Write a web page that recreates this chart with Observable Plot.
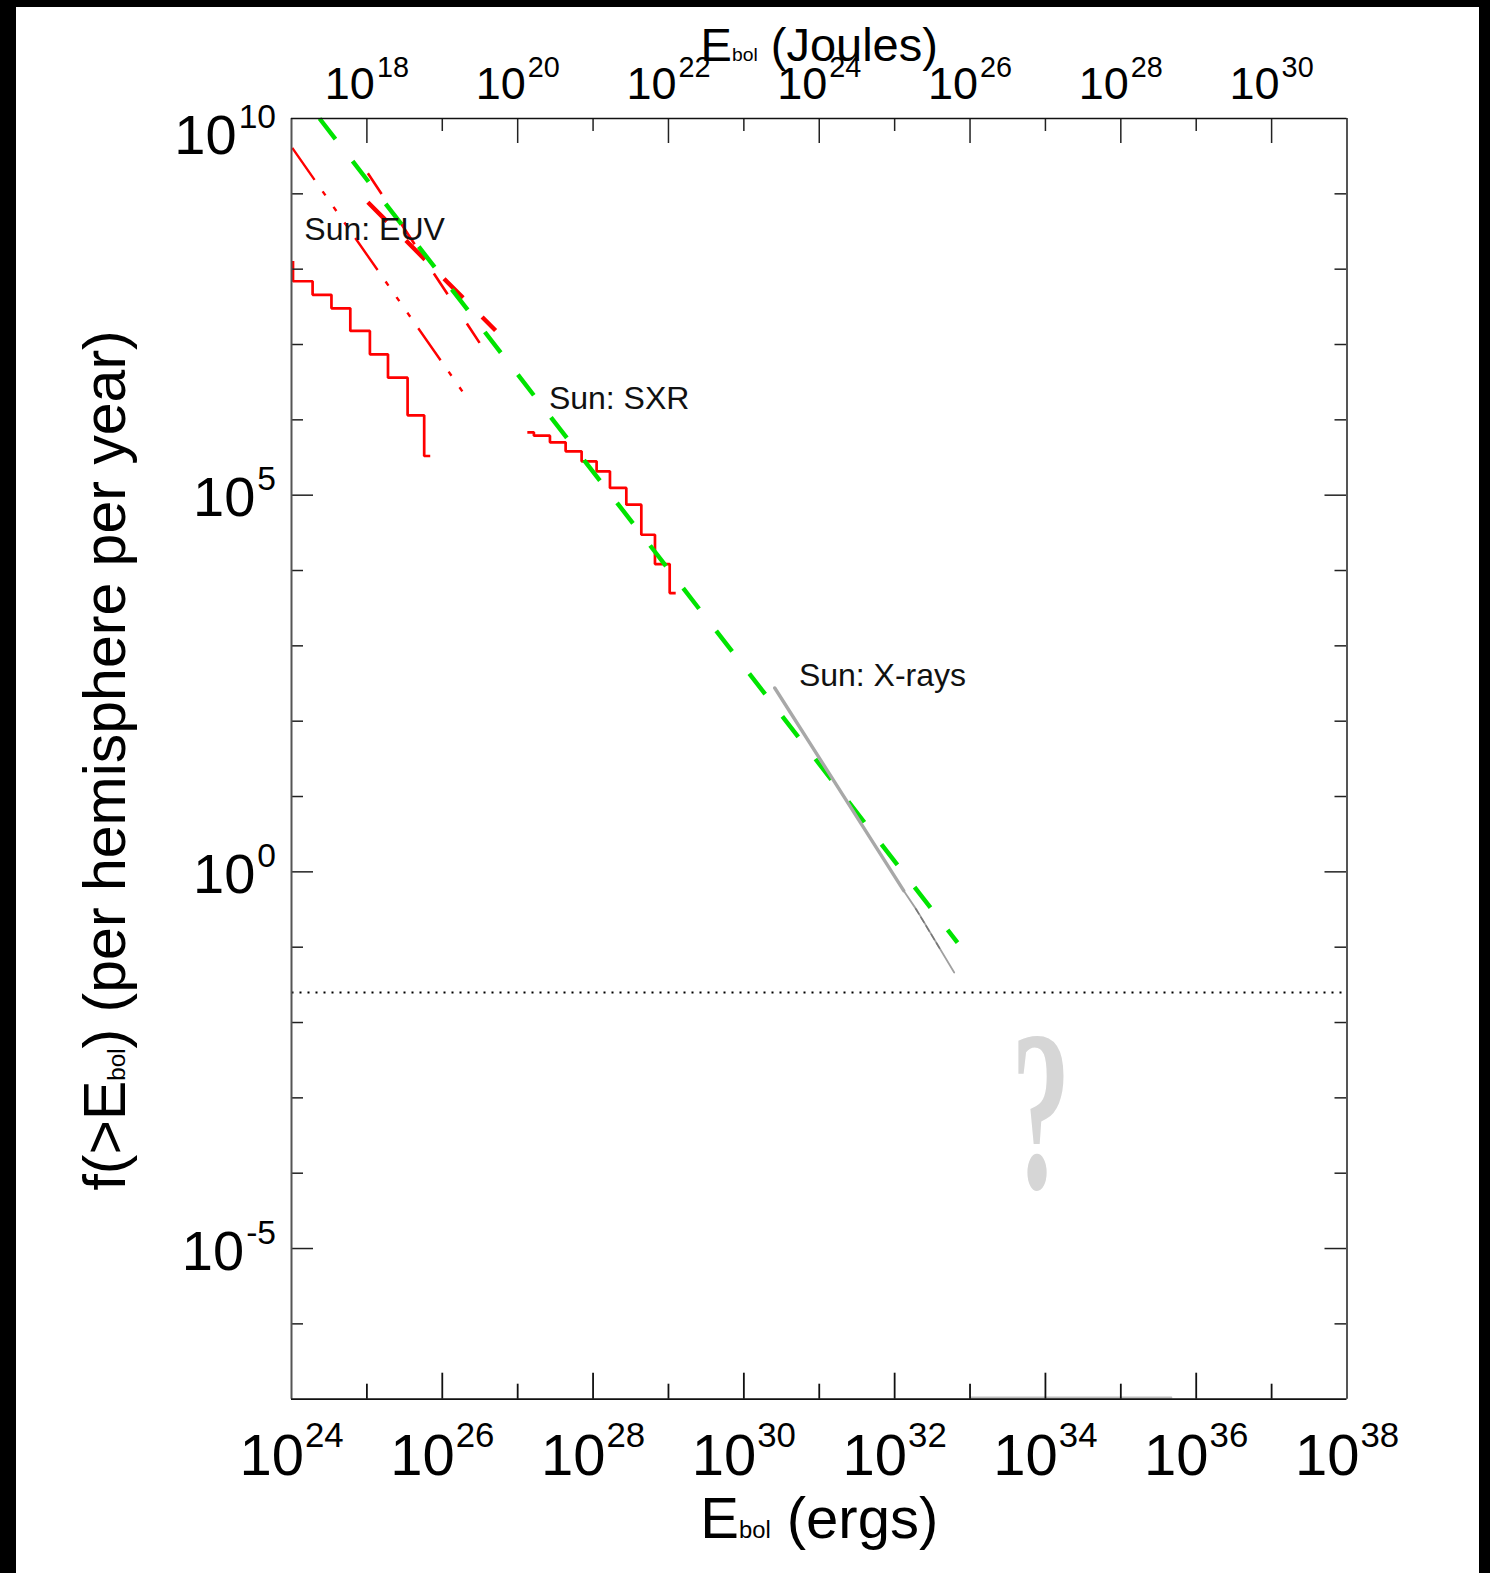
<!DOCTYPE html>
<html>
<head>
<meta charset="utf-8">
<script src="https://cdn.jsdelivr.net/npm/d3@7"></script>
<script src="https://cdn.jsdelivr.net/npm/@observablehq/plot@0.6"></script>
<style>
html,body{margin:0;padding:0;background:#000;}
#page{position:absolute;left:16px;top:7px;width:1463px;height:1566px;background:#fff;overflow:hidden;}
</style>
</head>
<body>
<div id="page"></div>
<script>
// ---------------- data (x: E_bol in ergs, y: f(>E_bol) per hemisphere per year) ----------------
// Solar EUV cumulative histogram (steps)
const euvStepE = [1.047e24, 1.047e24, 1.905e24, 3.388e24, 6.026e24, 1.096e25, 1.905e25, 3.467e25, 5.754e25, 6.918e25];
const euvStepF = [1.288e8, 6.918e7, 4.571e7, 3.020e7, 1.514e7, 7.413e6, 3.631e6, 1.148e6, 3.311e5, 3.311e5];
// EUV power-law fits
const euvDotDashE = [1.023e24, 1.950e26];
const euvDotDashF = [4.074e9, 2.208e6];
const euvThinDashE = [1.030e25, 3.126e26];
const euvThinDashF = [1.879e9, 1.050e7];
const euvThickDashE = [1.030e25, 5.093e26];
const euvThickDashF = [7.745e8, 1.531e7];
// Solar SXR cumulative histogram (steps)
const sxrStepE = [1.343e27, 1.641e27, 2.679e27, 4.325e27, 7.047e27, 1.114e28, 1.675e28, 2.761e28, 4.365e28, 6.622e28, 1.038e29, 1.247e29];
const sxrStepF = [6.823e5, 6.166e5, 5.023e5, 3.819e5, 2.812e5, 2.070e5, 1.247e5, 7.482e4, 2.985e4, 1.219e4, 5.023e3, 5.023e3];
// Solar X-ray distribution
const xrayE = [2.570e30, 1.288e31, 1.318e32];
const xrayF = [275.4, 21.88, 0.5623];
const xrayTailE = [1.318e32, 1.995e32, 6.166e32];
const xrayTailF = [0.5623, 0.3034, 0.04603];
const xrayDarkE = [1.905e32, 3.981e32];
const xrayDarkF = [0.3236, 0.0955];
// Overall power law (green dashed)
const fitE = [2.355e24, 6.823e32];
const fitF = [1e10, 0.1151];
// Once-per-interval reference level (dotted)
const refE = [1e24, 8.7e37];
const refF = [0.025, 0.025];
// faint gray trace along the bottom axis
const baseE = [1.02e33, 4.677e35];
const baseF = [1.05e-7, 1.05e-7];
// labels
const labelText = ["Sun: EUV", "Sun: SXR", "Sun: X-rays"];
const labelE = [1.479e24, 2.594e27, 5.370e30];
const labelF = [2.472e8, 1.396e6, 289.1];
const qText = ["?"];
const qE = [8.710e33];
const qF = [6.368e-5];
// ticks
const xTickLabels = [1e24, 1e26, 1e28, 1e30, 1e32, 1e34, 1e36, 1e38];
const xMajor = [1e26, 1e28, 1e30, 1e32, 1e34, 1e36];
const xMinor = [1e25, 1e27, 1e29, 1e31, 1e33, 1e35, 1e37];
const topTickLabelsJ = [1e18, 1e20, 1e22, 1e24, 1e26, 1e28, 1e30];
const topMinorJ = [1e19, 1e21, 1e23, 1e25, 1e27, 1e29];
const yTickLabels = [1e10, 1e5, 1e0, 1e-5];
const yMajor = [1e5, 1e0, 1e-5];
const yMinor = [1e9, 1e8, 1e7, 1e6, 1e4, 1e3, 1e2, 1e1, 1e-1, 1e-2, 1e-3, 1e-4, 1e-6];
const ERG_PER_JOULE = 1e7;
const xTitle = "E_{bol} (ergs)";
const topTitle = "E_{bol} (Joules)";
const yTitle = "f(>E_{bol}) (per hemisphere per year)";

// ---------------- layout ----------------
const W = 1463, H = 1566;
const mL = 275, mR = 132.5, mT = 111, mB = 174.3;
const FW = W - mL - mR, FH = H - mT - mB;
const RED = "#ff0000", GREEN = "#00e400";
const FONT = "'Liberation Sans', Arial, Helvetica, sans-serif";

const rows = (xs, ys) => xs.map((x, i) => ({x, y: ys[i]}));
const exp10 = d => Math.round(Math.log10(d));

const plot = Plot.plot({
  width: W, height: H,
  marginLeft: mL, marginRight: mR, marginTop: mT, marginBottom: mB,
  style: {fontFamily: FONT, background: "white", overflow: "visible", color: "#000"},
  x: {type: "log", domain: [1e24, 1e38], axis: null},
  y: {type: "log", domain: [1e-7, 1e10], axis: null},
  marks: [
    // red EUV / SXR data
    Plot.line(rows(euvStepE, euvStepF), {x: "x", y: "y", curve: "step-after", stroke: RED, strokeWidth: 2.7, strokeLinejoin: "miter", strokeLinecap: "butt"}),
    Plot.line(rows(euvDotDashE, euvDotDashF), {x: "x", y: "y", stroke: RED, strokeWidth: 2.4, strokeLinecap: "butt", strokeDasharray: "39,14,5,14,5,14,5,14"}),
    Plot.line(rows(euvThinDashE, euvThinDashF), {x: "x", y: "y", stroke: RED, strokeWidth: 2.6, strokeLinecap: "butt", strokeDasharray: "25,35"}),
    Plot.line(rows(euvThickDashE, euvThickDashF), {x: "x", y: "y", stroke: RED, strokeWidth: 4.4, strokeLinecap: "butt", strokeDasharray: "27,27"}),
    Plot.line(rows(sxrStepE, sxrStepF), {x: "x", y: "y", curve: "step-after", stroke: RED, strokeWidth: 2.7, strokeLinejoin: "miter", strokeLinecap: "butt"}),
    // green power law
    Plot.line(rows(fitE, fitF), {x: "x", y: "y", stroke: GREEN, strokeWidth: 4.4, strokeLinecap: "butt", strokeDasharray: "26,28"}),
    // gray X-ray data
    Plot.line(rows(xrayE, xrayF), {x: "x", y: "y", stroke: "#a8a8a8", strokeWidth: 3.4}),
    Plot.line(rows(xrayTailE, xrayTailF), {x: "x", y: "y", stroke: "#a0a0a0", strokeWidth: 1.8}),
    Plot.line(rows(xrayDarkE, xrayDarkF), {x: "x", y: "y", stroke: "#777", strokeWidth: 1.5, strokeDasharray: "6,4"}),
    Plot.line(rows(baseE, baseF), {x: "x", y: "y", stroke: "#bdbdbd", strokeWidth: 2}),
    // dotted reference level
    Plot.line(rows(refE, refF), {x: "x", y: "y", stroke: "#000", strokeWidth: 2, strokeDasharray: "2,6", strokeLinecap: "butt"}),
    // ticks (pointing inward)
    Plot.tickX(xMajor, {x: d => d, insetTop: FH - 26, stroke: "#111", strokeWidth: 1.8}),
    Plot.tickX(xMinor, {x: d => d, insetTop: FH - 15, stroke: "#111", strokeWidth: 1.8}),
    Plot.tickX(topTickLabelsJ, {x: d => d * ERG_PER_JOULE, insetBottom: FH - 25, stroke: "#222", strokeWidth: 1.5}),
    Plot.tickX(topMinorJ, {x: d => d * ERG_PER_JOULE, insetBottom: FH - 13, stroke: "#222", strokeWidth: 1.5}),
    Plot.tickY(yMajor, {y: d => d, insetRight: FW - 22, stroke: "#222", strokeWidth: 1.5}),
    Plot.tickY(yMinor, {y: d => d, insetRight: FW - 12, stroke: "#222", strokeWidth: 1.5}),
    Plot.tickY(yMajor, {y: d => d, insetLeft: FW - 22, stroke: "#222", strokeWidth: 1.5}),
    Plot.tickY(yMinor, {y: d => d, insetLeft: FW - 12, stroke: "#222", strokeWidth: 1.5}),
    // frame
    Plot.ruleX([1e24, 1e38], {stroke: "#555", strokeWidth: 2}),
    Plot.ruleY([1e-7, 1e10], {stroke: "#111", strokeWidth: 1.7}),
    // tick labels
    Plot.text(xTickLabels, {x: d => d, text: d => `10^{${exp10(d)}}`, frameAnchor: "bottom", dy: 75.3, textAnchor: "middle", lineAnchor: "bottom", fontSize: 58, fill: "#000", ariaLabel: () => "bottom-labels"}),
    Plot.text(topTickLabelsJ, {x: d => d * ERG_PER_JOULE, text: d => `10^{${exp10(d)}}`, frameAnchor: "top", dy: -19.7, textAnchor: "middle", lineAnchor: "bottom", fontSize: 45, fill: "#000", ariaLabel: () => "top-labels"}),
    Plot.text(yTickLabels.slice(0, 1), {y: d => d, text: d => `10^{${exp10(d)}}`, frameAnchor: "left", dx: -15.5, dy: 35, textAnchor: "end", lineAnchor: "bottom", fontSize: 56, fill: "#000", ariaLabel: () => "y-labels"}),
    Plot.text(yTickLabels.slice(1), {y: d => d, text: d => `10^{${exp10(d)}}`, frameAnchor: "left", dx: -15.5, dy: 21, textAnchor: "end", lineAnchor: "bottom", fontSize: 56, fill: "#000", ariaLabel: () => "y-labels"}),
    // axis titles
    Plot.text([xTitle], {text: d => d, frameAnchor: "bottom", dy: 138.3, textAnchor: "middle", lineAnchor: "bottom", fontSize: 58, fill: "#000", ariaLabel: () => "titles"}),
    Plot.text([topTitle], {text: d => d, frameAnchor: "top", dy: -58, textAnchor: "middle", lineAnchor: "bottom", fontSize: 47, fill: "#000", ariaLabel: () => "titles"}),
    Plot.text([yTitle], {text: d => d, frameAnchor: "left", rotate: -90, dx: -166.5, dy: 1.6, textAnchor: "middle", lineAnchor: "bottom", fontSize: 59, fill: "#000", ariaLabel: () => "titles"}),
    // data labels
    Plot.text(labelText.map((t, i) => ({t, x: labelE[i], y: labelF[i]})), {x: "x", y: "y", text: "t", textAnchor: "start", lineAnchor: "bottom", fontSize: 32, fill: "#111"}),
    Plot.text(qText.map((t, i) => ({t, x: qE[i], y: qF[i]})), {x: "x", y: "y", text: "t", textAnchor: "middle", lineAnchor: "bottom", fontSize: 228, fontWeight: "bold", fontFamily: "'Liberation Serif', 'DejaVu Serif', serif", fill: "#d6d6d6", ariaLabel: () => "qmark"})
  ]
});

document.getElementById("page").appendChild(plot);

// collect text elements tagged with an aria-label (on the text itself or its group)
function tagged(label) {
  const out = [];
  plot.querySelectorAll(`[aria-label="${label}"]`).forEach(el => {
    if (el.tagName.toLowerCase() === "text") out.push(el);
    else el.querySelectorAll("text").forEach(t => out.push(t));
  });
  return out;
}

// ---------- turn ^{..} / _{..} markup into tspans ----------
const SVGNS = "http://www.w3.org/2000/svg";
function rich(label, {supScale = 0.6, rise = 0.47, supDx = 0, subScale = 0.41} = {}) {
  tagged(label).forEach(t => {
    const s = t.textContent;
    if (!/[\^_]\{/.test(s)) return;
    const fs = parseFloat(getComputedStyle(t).fontSize);
    while (t.firstChild) t.removeChild(t.firstChild);
    const parts = s.split(/(\^\{[^}]*\}|_\{[^}]*\})/).filter(p => p !== "");
    let raised = 0;
    for (const p of parts) {
      const ts = document.createElementNS(SVGNS, "tspan");
      if (p.startsWith("^{")) {
        ts.textContent = p.slice(2, -1);
        ts.setAttribute("font-size", supScale * fs);
        ts.setAttribute("dy", -rise * fs);
        if (supDx) ts.setAttribute("dx", supDx);
        raised = rise * fs;
      } else if (p.startsWith("_{")) {
        ts.textContent = p.slice(2, -1);
        ts.setAttribute("font-size", subScale * fs);
        if (raised) { ts.setAttribute("dy", raised); raised = 0; }
      } else {
        ts.textContent = p;
        if (raised) { ts.setAttribute("dy", raised); raised = 0; }
      }
      t.appendChild(ts);
    }
  });
}
rich("bottom-labels", {supScale: 0.6, rise: 0.48, supDx: 1});
rich("top-labels", {supScale: 0.64, rise: 0.48, supDx: 2});
rich("y-labels", {supScale: 0.6, rise: 0.46, supDx: 2});
rich("titles", {subScale: 0.41});
// narrow the big question mark like the original glyph
tagged("qmark").forEach(t => {
  t.setAttribute("transform", (t.getAttribute("transform") || "") + " scale(0.52,1)");
});
</script>
</body>
</html>
